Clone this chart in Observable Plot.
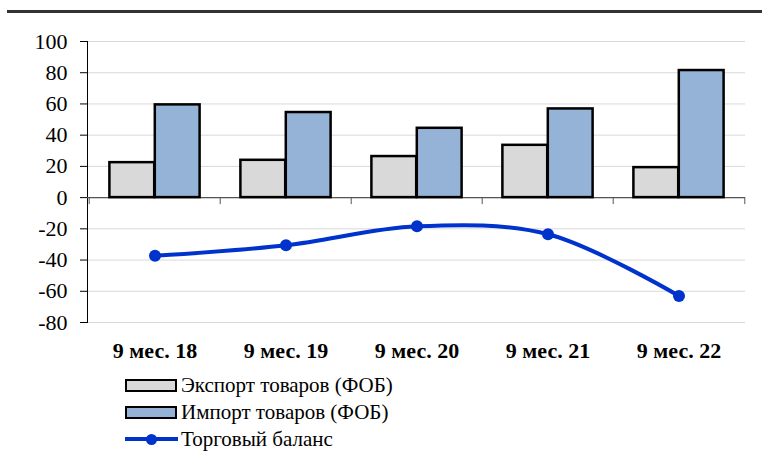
<!DOCTYPE html>
<html>
<head>
<meta charset="utf-8">
<script src="https://cdn.jsdelivr.net/npm/d3@7"></script>
<script src="https://cdn.jsdelivr.net/npm/@observablehq/plot@0.6"></script>
<style>
  html, body { margin: 0; padding: 0; background: #fff; }
  #wrap { position: relative; width: 762px; height: 457px; font-family: "Liberation Serif", "Times New Roman", serif; }
  #topline { position: absolute; left: 7px; top: 10px; width: 755px; height: 2.5px; background: #333; }
  #chart { position: absolute; left: 0; top: 0; }
  .leg { position: absolute; left: 125px; height: 26px; display: flex; align-items: center; font-size: 21px; color: #000; }
  .sw { width: 48px; height: 9px; border: 2.5px solid #000; margin-right: 4px; }
  .ln { position: relative; width: 53px; height: 4px; background: #0033cc; margin-right: 3px; }
  .ln::after { content: ""; position: absolute; left: 21px; top: -3.5px; width: 11px; height: 11px; border-radius: 50%; background: #0033cc; }
</style>
</head>
<body>
<div id="wrap">
  <div id="chart"></div>
  <div id="topline"></div>
</div>
<script>
const categories = ["9 мес. 18", "9 мес. 19", "9 мес. 20", "9 мес. 21", "9 мес. 22"];
const exportValues = [22.4, 23.9, 26.3, 33.5, 19.2];
const importValues = [59.4, 54.5, 44.4, 56.8, 81.4];
const balanceValues = [-37.3, -30.5, -18.4, -23.5, -63.0];
const seriesNames = ["Экспорт товаров (ФОБ)", "Импорт товаров (ФОБ)", "Торговый баланс"];
const yTicks = [-80, -60, -40, -20, 0, 20, 40, 60, 80, 100];

const rows = categories.map((c, i) => ({cat: c, exp: exportValues[i], imp: importValues[i], bal: balanceValues[i]}));

const W = 762, H = 370, ML = 87, MR = 17, MT = 41, MB = 48;
const bw = (W - ML - MR) / categories.length;
const pad = bw * 0.155;
const half = (bw - 2 * pad) / 2;
const tickUnits = 7 / ((H - MT - MB) / 180);

const chart = Plot.plot({
  width: W, height: H,
  marginLeft: ML, marginRight: MR, marginTop: MT, marginBottom: MB,
  style: {fontFamily: "'Liberation Serif', 'Times New Roman', serif", color: "#000", background: "transparent"},
  x: {domain: categories, padding: 0, label: null},
  y: {domain: [-80, 100], label: null},
  marks: [
    Plot.gridY(yTicks, {stroke: "#d9d9d9", strokeOpacity: 1, strokeWidth: 1}),
    Plot.axisY(yTicks, {tickSize: 7, tickPadding: 13, fontSize: 22, stroke: "#000", tickFormat: d => String(d), label: null}),
    Plot.axisX({tickSize: 0, tickPadding: 20, fontSize: 22, fontWeight: "bold", label: null}),
    Plot.frame({anchor: "left", stroke: "#000", strokeWidth: 1}),
    Plot.ruleY([0], {stroke: "#555", strokeWidth: 1.2}),
    Plot.ruleX(rows, {x: "cat", dx: -bw / 2, y1: 0, y2: -tickUnits, stroke: "#555"}),
    Plot.ruleX(rows.slice(-1), {x: "cat", dx: bw / 2, y1: 0, y2: -tickUnits, stroke: "#555"}),
    Plot.barY(rows, {x: "cat", y: "exp", fill: "#d9d9d9", stroke: "#000", strokeWidth: 2.5, insetLeft: pad, insetRight: pad + half}),
    Plot.barY(rows, {x: "cat", y: "imp", fill: "#95b3d7", stroke: "#000", strokeWidth: 2.5, insetLeft: pad + half, insetRight: pad}),
    Plot.line(rows, {x: "cat", y: "bal", stroke: "#0033cc", strokeWidth: 4, curve: "catmull-rom"}),
    Plot.dot(rows, {x: "cat", y: "bal", r: 6, fill: "#0033cc", stroke: "none"})
  ]
});
document.getElementById("chart").appendChild(chart);

const legendTops = [372, 399, 426];
seriesNames.forEach((name, i) => {
  const d = document.createElement("div");
  d.className = "leg";
  d.style.top = legendTops[i] + "px";
  const sw = document.createElement("div");
  if (i === 0) { sw.className = "sw"; sw.style.background = "#d9d9d9"; }
  else if (i === 1) { sw.className = "sw"; sw.style.background = "#95b3d7"; }
  else { sw.className = "ln"; }
  d.appendChild(sw);
  const t = document.createElement("span");
  t.textContent = name;
  d.appendChild(t);
  document.getElementById("wrap").appendChild(d);
});
</script>
</body>
</html>
